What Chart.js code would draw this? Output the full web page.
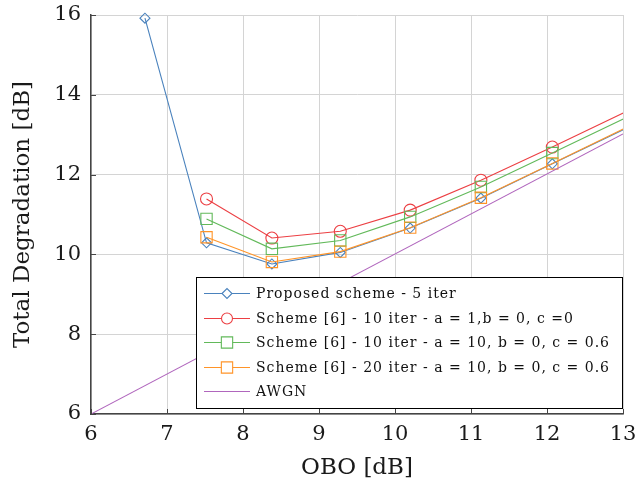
<!DOCTYPE html>
<html>
<head>
<meta charset="utf-8">
<script src="https://cdn.jsdelivr.net/npm/chart.js@4.4.1/dist/chart.umd.min.js"></script>
<style>
  html, body { margin: 0; padding: 0; background: #ffffff; }
  #wrap { width: 637px; height: 487px; position: relative; }
</style>
</head>
<body>
<div id="wrap"><canvas id="c" width="637" height="487"></canvas></div>
<script>
// ---- data ----
const oboPoints = [6.71, 7.52, 8.38, 9.28, 10.2, 11.13, 12.07, 13.02];
const proposed5 = [15.92, 10.29, 9.76, 10.05, 10.66, 11.41, 12.27, 13.14];
const scheme6_10_a1 = [null, 11.39, 10.41, 10.58, 11.11, 11.86, 12.69, 13.56];
const scheme6_10_a10 = [null, 10.89, 10.14, 10.35, 10.94, 11.69, 12.54, 13.41];
const scheme6_20_a10 = [null, 10.43, 9.81, 10.07, 10.67, 11.42, 12.28, 13.16];
const awgnObo = [6, 13];
const awgnDeg = [6, 13.02];

const xTicks = [6, 7, 8, 9, 10, 11, 12, 13];
const yTicks = [6, 8, 10, 12, 14, 16];

const seriesNames = [
  'Proposed scheme - 5 iter',
  'Scheme [6] - 10 iter - a = 1,b = 0, c =0',
  'Scheme [6] - 10 iter - a = 10, b = 0, c = 0.6',
  'Scheme [6] - 20 iter - a = 10, b = 0, c = 0.6',
  'AWGN'
];

const colors = ['#4a82bd', '#ec3f43', '#62b95a', '#ff9428', '#b066bd'];
const markers = ['rectRot', 'circle', 'rect', 'rect', false];
const markerR = [5, 6, 8, 8, 0];

function toXY(xs, ys) {
  const out = [];
  for (let i = 0; i < xs.length; i++) {
    if (ys[i] !== null && ys[i] !== undefined) out.push({x: xs[i], y: ys[i]});
  }
  return out;
}

const seriesData = [
  toXY(oboPoints, proposed5),
  toXY(oboPoints, scheme6_10_a1),
  toXY(oboPoints, scheme6_10_a10),
  toXY(oboPoints, scheme6_20_a10),
  toXY(awgnObo, awgnDeg)
];

const datasets = seriesData.map((d, i) => ({
  label: seriesNames[i],
  data: d,
  borderColor: colors[i],
  backgroundColor: 'rgba(0,0,0,0)',
  borderWidth: 1.1,
  pointStyle: markers[i] || 'circle',
  pointRadius: (ctx) => (markers[i] && ctx.raw && ctx.raw.x <= 13) ? markerR[i] : 0,
  pointHoverRadius: 0,
  pointBorderColor: colors[i],
  pointBackgroundColor: 'rgba(0,0,0,0)',
  pointBorderWidth: 1.1,
  tension: 0,
  clip: {left: 0, top: 8, right: 0, bottom: 0},
  order: 5 - i
}));

const SERIF = '"DejaVu Serif", "Liberation Serif", serif';

function drawMarker(ctx, style, x, y, r, color) {
  ctx.save();
  ctx.strokeStyle = color;
  ctx.lineWidth = 1.1;
  ctx.beginPath();
  if (style === 'circle') {
    ctx.arc(x, y, r, 0, Math.PI * 2);
  } else if (style === 'rect') {
    const s = Math.SQRT1_2 * r;
    ctx.rect(x - s, y - s, 2 * s, 2 * s);
  } else if (style === 'rectRot') {
    ctx.moveTo(x - r, y);
    ctx.lineTo(x, y - r);
    ctx.lineTo(x + r, y);
    ctx.lineTo(x, y + r);
    ctx.closePath();
  }
  ctx.fillStyle = '#ffffff';
  ctx.fill();
  ctx.stroke();
  ctx.restore();
}

const extras = {
  id: 'extras',
  afterDraw(chart) {
    const ctx = chart.ctx;
    const a = chart.chartArea;
    const xs = chart.scales.x, ys = chart.scales.y;
    ctx.save();
    // inward tick marks
    ctx.strokeStyle = '#444';
    ctx.lineWidth = 1;
    ctx.beginPath();
    xTicks.forEach(v => {
      const px = Math.round(xs.getPixelForValue(v)) + 0.5;
      ctx.moveTo(px, a.bottom);
      ctx.lineTo(px, a.bottom - 5);
    });
    yTicks.forEach(v => {
      const py = Math.round(ys.getPixelForValue(v)) + 0.5;
      ctx.moveTo(a.left, py);
      ctx.lineTo(a.left + 5, py);
    });
    ctx.stroke();

    // legend box
    const right = a.right;
    const bottom = a.bottom - 5;
    const w = 427, h = 132;
    const left = right - w, top = bottom - h;
    ctx.fillStyle = '#ffffff';
    ctx.fillRect(left, top, w, h);
    ctx.strokeStyle = '#000000';
    ctx.lineWidth = 1;
    ctx.strokeRect(Math.round(left) + 0.5, Math.round(top) + 0.5, w - 1, h - 1);

    const rowH = 24.5;
    const firstY = top + 16;
    ctx.font = '14px ' + SERIF;
    ctx.letterSpacing = '1px';
    ctx.textBaseline = 'middle';
    ctx.textAlign = 'left';
    seriesNames.forEach((name, i) => {
      const y = Math.round(firstY + i * rowH) + 0.5;
      ctx.strokeStyle = colors[i];
      ctx.lineWidth = 1.1;
      ctx.beginPath();
      ctx.moveTo(left + 8, y);
      ctx.lineTo(left + 54, y);
      ctx.stroke();
      if (markers[i]) drawMarker(ctx, markers[i], left + 31, y, markerR[i] === 6 ? 5.5 : markerR[i], colors[i]);
      ctx.fillStyle = '#111111';
      ctx.fillText(name, left + 60, y + 1);
    });
    ctx.restore();
  }
};

new Chart(document.getElementById('c'), {
  type: 'line',
  data: { datasets },
  plugins: [extras],
  options: {
    responsive: false,
    animation: false,
    devicePixelRatio: 1,
    layout: { padding: { left: 0, right: 14, top: 15, bottom: 0 } },
    plugins: { legend: { display: false }, tooltip: { enabled: false } },
    scales: {
      x: {
        type: 'linear',
        min: 6, max: 13,
        afterBuildTicks: (s) => { s.ticks = xTicks.map(v => ({value: v})); },
        afterFit: (s) => { s.height = 73; s.paddingLeft = 0; s.paddingRight = 0; },
        grid: { color: '#d4d4d4', lineWidth: 1, drawTicks: false },
        border: { color: '#444', width: 1.5 },
        ticks: { color: '#1a1a1a', font: { family: SERIF, size: 21 }, padding: 8, maxRotation: 0 },
        title: { display: true, text: 'OBO [dB]', color: '#1a1a1a', font: { family: SERIF, size: 23 }, padding: { top: 0, bottom: 5 } }
      },
      y: {
        type: 'linear',
        min: 6, max: 16,
        afterBuildTicks: (s) => { s.ticks = yTicks.map(v => ({value: v})); },
        afterFit: (s) => { s.width = 91; s.paddingTop = 0; s.paddingBottom = 0; },
        grid: { color: '#d4d4d4', lineWidth: 1, drawTicks: false },
        border: { color: '#444', width: 1.5 },
        ticks: { color: '#1a1a1a', font: { family: SERIF, size: 21 }, padding: 10 },
        title: { display: true, text: 'Total Degradation [dB]', color: '#1a1a1a', font: { family: SERIF, size: 23 }, padding: { top: 9, bottom: 0 } }
      }
    }
  }
});
</script>
</body>
</html>
